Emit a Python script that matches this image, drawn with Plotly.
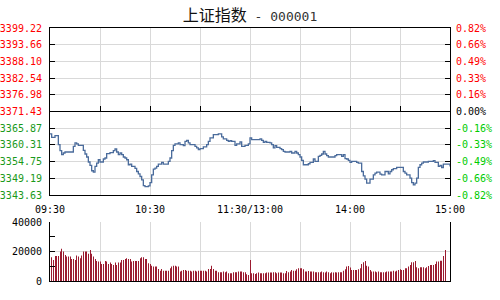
import plotly.graph_objects as go

# ---------------- data ----------------
PRE_CLOSE = 3371.43
TITLE_NAME = "上证指数"
TITLE_CODE = " - 000001"

# price change points (minutes since 09:30, trading-time axis) and prices
price_minutes = [0, 1, 3, 5, 6, 7, 8, 9, 14, 15, 16, 17, 20, 21, 22, 23, 24, 25, 26, 27, 28, 29, 30, 32, 33, 34, 36, 38, 39, 40,
                 41, 42, 43, 44, 45, 46, 47, 48, 49, 51, 52, 53, 54, 55, 56, 57, 59,
                 60, 61, 62, 63, 64, 65, 67, 68, 71, 72, 73, 74, 75, 77, 78, 80, 81, 82, 83, 84, 87, 88, 89, 90, 92, 94, 95, 96,
                 98, 101, 103, 104, 106, 107, 108, 109, 111, 112, 114, 115, 117, 119,
                 120, 121, 126, 127, 128, 129, 130, 132, 133, 134, 135, 136, 138, 139, 140, 141, 144, 145, 147, 148, 149, 150,
                 151, 152, 155, 156, 158, 159, 161, 162, 163, 164, 165, 166, 167, 171, 172, 175, 176, 177,
                 178, 179, 180, 181, 184, 185, 187, 188, 189, 190, 192, 194, 195, 196, 198, 199, 201, 203, 204, 205, 206, 208,
                 212, 213, 214, 216, 217, 218, 219, 220, 221, 222, 223, 224, 227, 230, 231, 233, 234, 235, 236, 240]
price_values = [3363.97, 3362.83, 3363.40, 3360.39, 3358.39, 3357.05, 3357.61, 3357.95, 3359.82, 3360.96, 3360.63, 3360.16,
                3358.49, 3357.28, 3356.28, 3354.61, 3353.47, 3351.70, 3351.26, 3353.13, 3354.27, 3355.37, 3354.61, 3355.61,
                3355.94, 3357.38, 3357.72, 3358.39, 3358.95, 3357.95, 3357.05, 3357.61, 3357.05, 3356.28, 3355.94, 3355.37,
                3353.70, 3353.93, 3353.13, 3352.46, 3351.46, 3350.69, 3349.79, 3348.68, 3346.78, 3346.44, 3346.68,
                3347.78, 3350.36, 3352.26, 3352.60, 3353.13, 3353.93, 3354.47, 3353.93, 3354.81, 3355.94, 3358.39, 3360.16,
                3360.63, 3360.96, 3360.39, 3360.06, 3361.50, 3361.83, 3360.96, 3360.39, 3359.82, 3359.29, 3358.72, 3359.05,
                3359.62, 3360.39, 3361.50, 3362.63, 3363.74, 3363.97, 3362.97, 3362.30, 3361.83, 3361.50, 3361.73, 3361.50,
                3360.16, 3360.63, 3361.30, 3359.82, 3360.16, 3360.63,
                3362.63, 3362.06, 3362.30, 3361.83, 3361.16, 3361.50, 3361.16, 3360.96, 3360.39, 3359.29, 3360.06, 3359.49,
                3359.05, 3358.72, 3358.15, 3357.95, 3358.15, 3357.61, 3358.15, 3357.61, 3357.05, 3356.28, 3355.14, 3353.70,
                3354.04, 3354.47, 3355.61, 3354.81, 3356.48, 3356.81, 3357.28, 3358.15, 3357.28, 3356.71, 3356.28, 3356.71,
                3357.05, 3356.48, 3357.05, 3355.71,
                3355.61, 3355.14, 3354.47, 3354.81, 3354.47, 3354.27, 3351.46, 3350.02, 3348.92, 3347.58, 3348.92, 3350.36,
                3350.92, 3351.26, 3350.59, 3350.36, 3351.46, 3350.69, 3351.46, 3352.03, 3352.43, 3352.80, 3351.46, 3350.92,
                3350.36, 3349.25, 3347.78, 3347.01, 3347.58, 3349.25, 3352.80, 3353.70, 3354.27, 3354.61, 3354.81, 3355.04,
                3354.47, 3353.13, 3353.47, 3352.79, 3353.93, 3353.13]

# per-minute volume, starting at minute 1
volume_values = [16100, 14300, 17000, 17000, 17000, 20000, 21800, 20000, 17700, 16600, 16600, 16600, 15000, 15000, 14300,
                 17300, 16600, 15400, 17300, 20000, 20000, 20000, 18400, 21100, 18400, 16600, 15000, 13600, 13200, 13200,
                 11600, 11600, 13600, 13200, 11600, 12500, 11600, 10900, 12500, 10900, 12500, 12500, 14300, 14300, 15000,
                 15400, 15000, 15000, 13200, 13600, 13600, 13600, 13600, 15400, 16100, 16100, 15000, 15000, 12000, 11600,
                 10400, 9800, 9800, 9800, 8200, 7000, 8200, 7000, 7000, 7000, 7000, 8600, 9800, 10400, 10400, 9800, 9800,
                 6400, 7000, 7500, 7500, 7000, 7000, 7000, 6400, 7000, 7000, 6400, 7000, 7000, 7000, 7000, 7000, 6400,
                 8200, 8200, 10400, 8200, 7000, 7000, 5900, 5900, 5900, 6400, 5900, 6400, 5200, 5200, 5200, 5900, 5900,
                 5900, 6400, 6400, 6400, 5900, 5900, 4500, 4100,
                 14300, 5200, 5200, 4800, 5200, 5700, 5200, 5200, 5200, 5200, 5700, 5700, 5700, 5700, 5900, 5900, 5200,
                 5700, 5700, 5700, 5200, 5200, 6800, 5900, 6400, 7500, 7000, 7000, 7900, 8600, 8600, 8600, 7900, 6400,
                 6400, 6800, 6400, 6400, 6400, 5900, 5900, 5900, 5900, 6400, 5900, 5700, 6400, 5900, 5200, 5900, 5700,
                 5900, 5700, 5900, 5900, 5900, 7000, 7900, 9800, 10200, 9100, 7500, 7500, 7500, 7500, 7900, 8600, 11600,
                 12700, 13600, 10400, 9800, 7500, 6400, 6400, 6400, 5900, 6400, 5900, 5900, 5900, 5900, 6400, 6400, 6400,
                 6400, 7000, 6400, 7000, 7500, 7900, 7500, 7500, 8600, 8600, 9800, 10900, 12700, 12700, 13600, 9300, 8600,
                 9300, 9300, 9300, 8600, 9300, 10200, 10900, 10900, 10900, 11600, 13200, 13200, 13800, 13800, 17000, 21100]
volume_minutes = list(range(1, len(volume_values) + 1))

price_ticks = [3399.22, 3393.66, 3388.10, 3382.54, 3376.98, 3371.43, 3365.87, 3360.31, 3354.75, 3349.19, 3343.63]
price_tick_text = ["3399.22", "3393.66", "3388.10", "3382.54", "3376.98", "3371.43",
                   "3365.87", "3360.31", "3354.75", "3349.19", "3343.63"]
pct_tick_text = ["0.82%", "0.66%", "0.49%", "0.33%", "0.16%", "0.00%",
                 "-0.16%", "-0.33%", "-0.49%", "-0.66%", "-0.82%"]
time_ticks = [0, 30, 60, 90, 120, 150, 180, 210, 240]
time_labels = ["09:30", "", "10:30", "", "11:30/13:00", "", "14:00", "", "15:00"]
vol_ticks = [0, 10000, 20000, 30000, 40000]
vol_tick_text = ["0", "", "20000", "", "40000"]

# ---------------- style ----------------
W, H = 500, 300
RED = "#ff0000"
GREEN_L = "#1a991a"
GREEN_R = "#00cc00"
GRID = "#d9d9d9"
LINE = "#4b6c9c"
BAR = "#9b1b30"
MONO = "DejaVu Sans Mono"
FS = 10

def colored(texts, values, up, flat, down):
    out = []
    for t, v in zip(texts, values):
        c = up if v > PRE_CLOSE + 1e-6 else (flat if abs(v - PRE_CLOSE) < 1e-6 else down)
        out.append(f"<span style='color:{c}'>{t}</span>")
    return out

left_text = colored(price_tick_text, price_ticks, RED, RED, GREEN_L)
right_text = colored(pct_tick_text, price_ticks, RED, "#000000", GREEN_R)

title_html = (f"<span style='font-family:Noto Sans CJK SC;font-size:16px;color:#111111'>{TITLE_NAME}</span>"
              f"<span style='font-family:DejaVu Sans Mono;font-size:13px;color:#333333'>{TITLE_CODE}</span>")

px_domain = [50 / W, 450 / W]
py_domain = [1 - 195 / H, 1 - 28 / H]
vy_domain = [1 - 281 / H, 1 - 222 / H]
prange = [price_ticks[-1], price_ticks[0]]
zero_pos = py_domain[0] + (PRE_CLOSE - prange[0]) / (prange[1] - prange[0]) * (py_domain[1] - py_domain[0])
vol_xrange = [-0.1, 239.9]   # sub-pixel offset so thin bars land on whole pixels

fig = go.Figure()
fig.add_trace(go.Scatter(x=price_minutes, y=price_values, mode="lines", line=dict(color=LINE, width=1.3, shape="hv"),
                         xaxis="x", yaxis="y", hoverinfo="skip", showlegend=False))
fig.add_trace(go.Scatter(x=price_minutes, y=price_values, mode="lines", line=dict(color="rgba(0,0,0,0)", width=0),
                         xaxis="x", yaxis="y2", hoverinfo="skip", showlegend=False))
fig.add_trace(go.Scatter(x=price_minutes, y=price_values, mode="lines", line=dict(color="rgba(0,0,0,0)", width=0),
                         xaxis="x3", yaxis="y", hoverinfo="skip", showlegend=False))
fig.add_trace(go.Bar(x=volume_minutes, y=volume_values, width=0.12, marker=dict(color=BAR, line=dict(width=0)),
                     xaxis="x2", yaxis="y3", hoverinfo="skip", showlegend=False))
fig.add_trace(go.Bar(x=volume_minutes, y=volume_values, width=0.12, marker=dict(color="rgba(0,0,0,0)", line=dict(width=0)),
                     xaxis="x2", yaxis="y4", hoverinfo="skip", showlegend=False))

axis_font = dict(family=MONO, size=FS, color="#000000")
fig.update_layout(
    width=W, height=H,
    margin=dict(l=0, r=0, t=0, b=0, pad=0, autoexpand=False),
    paper_bgcolor="white", plot_bgcolor="white",
    showlegend=False,
    barmode="overlay",
    title=dict(text=title_html, x=0.5, xanchor="center", y=1 - 16 / H, yanchor="middle", automargin=False,
               font=dict(family="Noto Sans CJK SC", size=15, color="#222222")),
    xaxis=dict(domain=px_domain, range=[0, 240], anchor="y", tickmode="array", tickvals=time_ticks, ticktext=time_labels,
               ticks="", showgrid=True, gridcolor=GRID, gridwidth=1, showline=True, linecolor="#000000", linewidth=1,
               mirror=True, zeroline=False, tickfont=axis_font, automargin=False, ticklabelstandoff=5),
    yaxis=dict(domain=py_domain, range=prange, anchor="x", tickmode="array", tickvals=price_ticks, ticktext=left_text,
               ticks="inside", ticklen=5, tickcolor="#000000", showgrid=True, gridcolor=GRID, gridwidth=1,
               showline=True, linecolor="#000000", linewidth=1, mirror="ticks", zeroline=False,
               tickfont=axis_font, automargin=False, ticklabelstandoff=5),
    yaxis2=dict(overlaying="y", side="right", range=prange, anchor="x", tickmode="array", tickvals=price_ticks,
                ticktext=right_text, ticks="", showgrid=False, showline=False, zeroline=False,
                tickfont=axis_font, automargin=False, ticklabelstandoff=5),
    xaxis3=dict(overlaying="x", anchor="free", position=zero_pos, range=[0, 240], tickmode="array",
                tickvals=time_ticks, ticks="inside", ticklen=5, tickcolor="#000000", showticklabels=False,
                showgrid=False, showline=True, linecolor="#000000", linewidth=1.3, zeroline=False, automargin=False),
    xaxis2=dict(domain=px_domain, range=vol_xrange, anchor="y3", tickmode="array", tickvals=time_ticks,
                showticklabels=False, ticks="", showgrid=True, gridcolor=GRID, gridwidth=1,
                showline=True, linecolor="#000000", linewidth=1, mirror=False, zeroline=False, automargin=False),
    yaxis3=dict(domain=vy_domain, range=[0, 40000], anchor="x2", tickmode="array", tickvals=vol_ticks,
                ticktext=vol_tick_text, ticks="inside", ticklen=5, tickcolor="#000000", showgrid=False,
                showline=True, linecolor="#000000", linewidth=1, mirror=True, zeroline=False,
                tickfont=axis_font, automargin=False, ticklabelstandoff=5),
    yaxis4=dict(overlaying="y3", range=[0, 40000], anchor="x2", tickmode="array", tickvals=[20000],
                showticklabels=False, ticks="", showgrid=True, gridcolor=GRID, gridwidth=1,
                showline=False, zeroline=False, automargin=False),
)

fig.write_html("out.html")
